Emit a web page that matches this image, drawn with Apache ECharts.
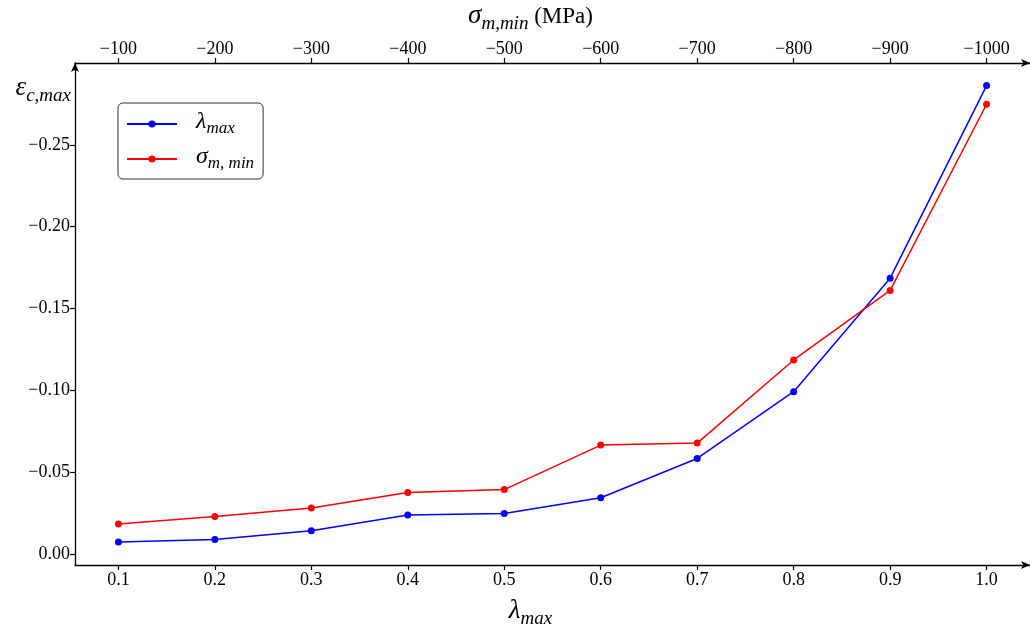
<!DOCTYPE html>
<html>
<head>
<meta charset="utf-8">
<script src="https://cdn.jsdelivr.net/npm/echarts@6/dist/echarts.min.js"></script>
<style>
  html, body { margin: 0; padding: 0; background: #fff; }
  #chart { width: 1030px; height: 631px; }
</style>
</head>
<body>
<div id="chart"></div>
<script>
  // x values (lambda_max)
  var lambdaMax = [0.1, 0.2, 0.3, 0.4, 0.5, 0.6, 0.7, 0.8, 0.9, 1.0];
  // eps_c,max for each series
  var lambdaSeries = [-0.0072, -0.0088, -0.0141, -0.0237, -0.0247, -0.0343, -0.0583, -0.0991, -0.1685, -0.2862];
  var sigmaSeries = [-0.0182, -0.0228, -0.0280, -0.0375, -0.0393, -0.0665, -0.0677, -0.1185, -0.1610, -0.2748];
  // tick labels
  var xTicks = [0.1, 0.2, 0.3, 0.4, 0.5, 0.6, 0.7, 0.8, 0.9, 1.0];
  var topTicks = [-100, -200, -300, -400, -500, -600, -700, -800, -900, -1000];
  var yTicks = [0, -0.05, -0.10, -0.15, -0.20, -0.25];

  var serif = "'Liberation Serif', serif";
  var minus = '\u2212';

  function pairs(xs, ys) {
    return xs.map(function (x, i) { return [x, ys[i]]; });
  }

  // math-like label: italic main + subscript
  var mathRich = {
    m: { fontFamily: serif, fontStyle: 'italic', fontSize: 27, color: '#000', verticalAlign: 'top', lineHeight: 32 },
    s: { fontFamily: serif, fontStyle: 'italic', fontSize: 19, color: '#000', verticalAlign: 'top', padding: [12, 0, 0, 0], lineHeight: 21 },
    t: { fontFamily: serif, fontSize: 23, color: '#000', verticalAlign: 'top', padding: [3, 0, 0, 0], lineHeight: 26 }
  };
  var legendRich = {
    g: { width: 14 },
    m: { fontFamily: serif, fontStyle: 'italic', fontSize: 24, color: '#000', verticalAlign: 'top', lineHeight: 28 },
    s: { fontFamily: serif, fontStyle: 'italic', fontSize: 17, color: '#000', verticalAlign: 'top', padding: [10, 0, 0, 0], lineHeight: 19 }
  };
  // tick label text
  var tickRich = {
    v: { fontFamily: serif, fontSize: 18, color: '#000' }
  };

  var axisLine = { show: true, onZero: false, lineStyle: { color: '#000', width: 1.3 } };
  var tickStyle = { show: true, length: 5, lineStyle: { color: '#000', width: 1.2 } };

  var chart = echarts.init(document.getElementById('chart'));

  chart.setOption({
    animation: false,
    backgroundColor: '#fff',
    textStyle: { fontFamily: serif, fontSize: 18, color: '#000' },
    grid: { left: 75, right: 0, top: 63, bottom: 66, containLabel: false, outerBoundsMode: 'none' },
    legend: {
      left: 118,
      top: 103,
      orient: 'vertical',
      backgroundColor: '#fff',
      borderColor: '#333',
      borderWidth: 1,
      borderRadius: 5,
      padding: [7, 9, 7, 8],
      itemWidth: 50,
      itemHeight: 9,
      itemGap: 8,
      textStyle: { rich: legendRich },
      formatter: function (name) {
        return name === 'lambda' ? '{g|}{m|λ}{s|max}' : '{g|}{m|σ}{s|m, min}';
      },
      data: ['lambda', 'sigma']
    },
    xAxis: [{
      type: 'value',
      position: 'bottom',
      min: 0.055,
      max: 1.045,
      axisLine: Object.assign({ symbol: ['none', 'arrow'], symbolSize: [6, 9] }, axisLine),
      axisTick: Object.assign({ customValues: xTicks }, tickStyle),
      axisLabel: {
        customValues: xTicks, margin: 6, rich: tickRich,
        formatter: function (v) { return '{v|' + v.toFixed(1) + '}'; }
      },
      splitLine: { show: false },
      name: '{m|λ}{s|max}',
      nameLocation: 'middle',
      nameGap: 32,
      nameTextStyle: { rich: mathRich, padding: [0, 44, 0, 0] }
    }, {
      type: 'value',
      position: 'top',
      inverse: true,
      min: -1045,
      max: -55,
      axisLine: Object.assign({ symbol: ['none', 'arrow'], symbolSize: [6, 9] }, axisLine),
      axisTick: Object.assign({ customValues: topTicks }, tickStyle),
      axisLabel: {
        customValues: topTicks, margin: 5, rich: tickRich,
        formatter: function (v) { return '{v|' + minus + Math.abs(v) + '}'; }
      },
      splitLine: { show: false },
      name: '{m|σ}{s|m,min}{t| (MPa)}',
      nameLocation: 'middle',
      nameGap: 29,
      nameTextStyle: { rich: mathRich, padding: [0, 44, 0, 0] }
    }],
    yAxis: {
      type: 'value',
      inverse: true,
      min: -0.3,
      max: 0.0068,
      axisLine: Object.assign({ symbol: ['none', 'arrow'], symbolSize: [6, 9] }, axisLine),
      axisTick: Object.assign({ customValues: yTicks }, tickStyle),
      axisLabel: {
        customValues: yTicks, margin: 5, rich: tickRich,
        formatter: function (v) { return '{v|' + (v === 0 ? '0.00' : minus + Math.abs(v).toFixed(2)) + '}'; }
      },
      splitLine: { show: false },
      name: '{m|ε}{s|c,max}',
      nameLocation: 'start',
      nameGap: -43,
      nameTextStyle: { rich: mathRich, align: 'right', padding: [0, 4, 0, 0] }
    },
    series: [{
      name: 'lambda',
      type: 'line',
      xAxisIndex: 0,
      data: pairs(lambdaMax, lambdaSeries),
      symbol: 'circle',
      symbolSize: 7,
      color: '#0000ff',
      lineStyle: { width: 1.5 }
    }, {
      name: 'sigma',
      type: 'line',
      xAxisIndex: 0,
      data: pairs(lambdaMax, sigmaSeries),
      symbol: 'circle',
      symbolSize: 7,
      color: '#ff0000',
      lineStyle: { width: 1.5 }
    }]
  });
</script>
</body>
</html>
